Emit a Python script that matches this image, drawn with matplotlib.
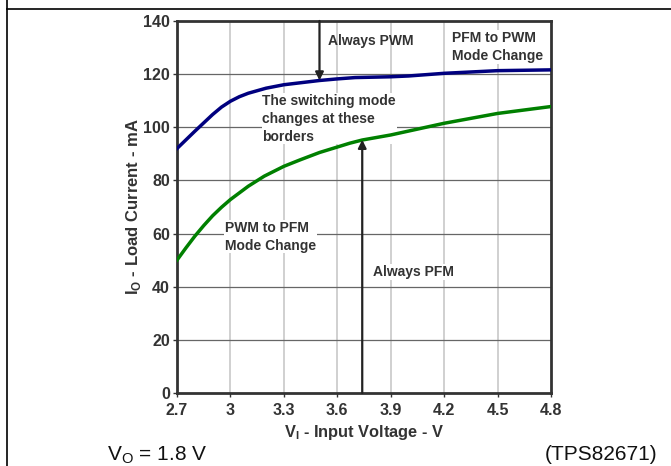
import matplotlib
matplotlib.use("Agg")
import matplotlib.pyplot as plt
from matplotlib.lines import Line2D

plt.rcParams['font.family'] = ['Liberation Sans', 'DejaVu Sans']
plt.rcParams['mathtext.fontset'] = 'custom'
plt.rcParams['mathtext.rm'] = 'Liberation Sans'
plt.rcParams['mathtext.bf'] = 'Liberation Sans:bold'

# PFM -> PWM border (blue) and PWM -> PFM border (green)
v_pwm = [2.7, 2.8, 2.9, 2.95, 3.0, 3.05, 3.1, 3.2, 3.3, 3.4, 3.5, 3.6, 3.7, 3.9, 4.0, 4.2, 4.5, 4.8]
i_pwm = [92.0, 98.5, 104.8, 107.6, 109.8, 111.5, 112.8, 114.7, 116.0, 116.8, 117.6, 118.2, 118.7, 119.0, 119.3, 120.3, 121.3, 121.6]
v_pfm = [2.7, 2.75, 2.8, 2.85, 2.9, 2.95, 3.0, 3.05, 3.1, 3.19, 3.3, 3.39, 3.5, 3.67, 3.74, 3.9, 4.2, 4.5, 4.8]
i_pfm = [50.0, 54.6, 59.0, 63.0, 66.7, 69.9, 72.8, 75.3, 77.8, 81.6, 85.3, 87.7, 90.5, 94.0, 95.2, 97.1, 101.5, 105.2, 107.8]

x_ticks = [2.7, 3.0, 3.3, 3.6, 3.9, 4.2, 4.5, 4.8]
x_labels = ["2.7", "3", "3.3", "3.6", "3.9", "4.2", "4.5", "4.8"]
y_ticks = [0, 20, 40, 60, 80, 100, 120, 140]

txt = '#333333'

fig = plt.figure(figsize=(6.71, 4.66), dpi=100)
ax = fig.add_axes([0.2638, 0.1567, 0.5574, 0.7983])

ax.set_xlim(2.7, 4.8)
ax.set_ylim(0, 140)
ax.set_xticks(x_ticks)
ax.set_xticklabels(x_labels)
ax.set_yticks(y_ticks)

for x in x_ticks[1:-1]:
    ax.axvline(x, color='#c8c8c8', lw=1.2, zorder=0)
for y in y_ticks[1:-1]:
    ax.axhline(y, color='#666666', lw=0.9, zorder=0)

ax.plot(v_pwm, i_pwm, color='#00007f', lw=2.5, zorder=3, solid_joinstyle='round')
ax.plot(v_pfm, i_pfm, color='#008000', lw=2.5, zorder=3, solid_joinstyle='round')

arrow = dict(arrowstyle='-|>', color='#222222', lw=1.6, mutation_scale=12, shrinkA=0, shrinkB=0)
ax.annotate('', xy=(3.5, 117.6), xytext=(3.5, 140), arrowprops=arrow, zorder=4)
ax.annotate('', xy=(3.74, 95.3), xytext=(3.74, 0), arrowprops=arrow, zorder=4)

box = dict(fc='white', ec='none', pad=0.5)
ax.text(3.545, 132.5, 'Always PWM', fontsize=10, fontweight='bold', color=txt, va='center', zorder=2)
ax.text(4.245, 130.2, 'PFM to PWM\nMode Change', fontsize=10, fontweight='bold', color=txt,
        va='center', linespacing=1.35, bbox=box, zorder=2)
ax.text(3.18, 103.2, 'The switching mode\nchanges at these\nborders', fontsize=10, fontweight='bold',
        color=txt, va='center', linespacing=1.35, bbox=box, zorder=2)
ax.text(2.97, 58.8, 'PWM to PFM\nMode Change', fontsize=10, fontweight='bold', color=txt,
        va='center', linespacing=1.35, bbox=box, zorder=2)
ax.text(3.80, 45.5, 'Always PFM', fontsize=10, fontweight='bold', color=txt, va='center',
        bbox=box, zorder=2)

for s in ax.spines.values():
    s.set_color('#333333')
    s.set_linewidth(2)
ax.tick_params(direction='out', length=3, width=1, colors='#333333', labelsize=11.5)
ax.tick_params(axis='x', pad=4)
ax.tick_params(axis='y', pad=2)
for lab in ax.get_xticklabels() + ax.get_yticklabels():
    lab.set_fontweight('bold')

ax.set_xlabel(r'V$_\mathbf{I}$ - Input Voltage - V', fontsize=11.75, fontweight='bold', color=txt, labelpad=4)
ax.set_ylabel(r'I$_\mathbf{O}$ - Load Current - mA', fontsize=12, fontweight='bold', color=txt, labelpad=0)

fig.text(107 / 671, 1 - 455 / 466, r'V$_\mathrm{O}$ = 1.8 V', fontsize=15, color='#111111', va='center')
fig.text(657 / 671, 1 - 455 / 466, '(TPS82671)', fontsize=15, color='#111111', va='center', ha='right')

# table-cell borders around the figure
fig.add_artist(Line2D([7 / 671, 7 / 671], [0, 1], color='black', lw=1.2))
fig.add_artist(Line2D([7 / 671, 1], [1 - 9 / 466, 1 - 9 / 466], color='black', lw=1.2))

fig.savefig('out.png', dpi=100)
